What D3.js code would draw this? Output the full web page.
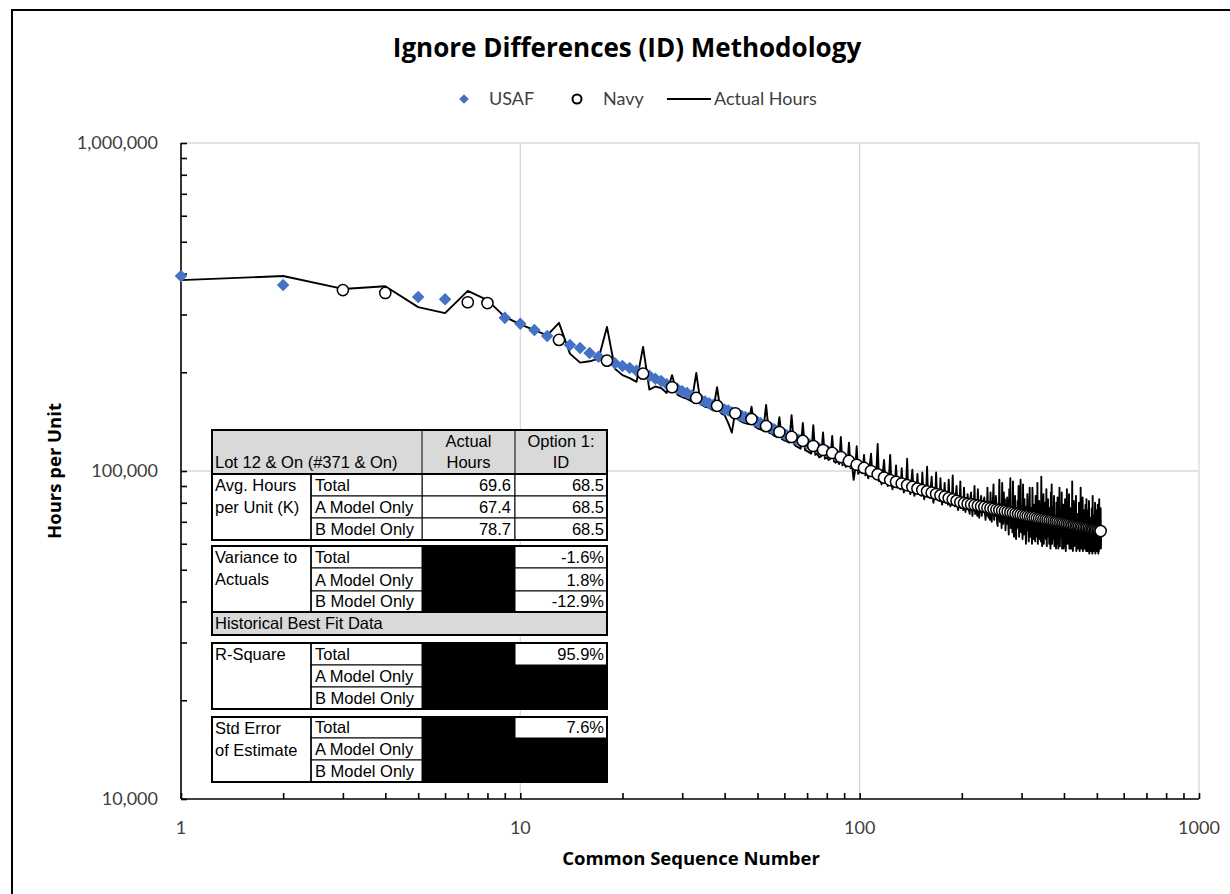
<!DOCTYPE html>
<html>
<head>
<meta charset="utf-8">
<script src="https://cdn.jsdelivr.net/npm/d3@7"></script>
<style>
  body { margin: 0; background: #fff; }
  svg { display: block; }
</style>
</head>
<body>
<script>
// ---- data (hours in thousands) ----
const usafUnits = [1, 2, 5, 6, 9, 10, 11, 12, 14, 15, 16, 17, 19, 20, 21, 22, 24, 25, 26, 27,
  29, 30, 31, 32, 34, 35, 36, 37, 39, 40, 41, 42, 44, 45, 46, 47, 49, 50, 51, 52,
  54, 55, 56, 57, 59, 60, 61, 62, 64, 65, 66, 67, 69, 70, 71, 72, 74, 75, 76, 77,
  79, 80, 81, 82, 84, 85, 86, 87, 89, 90, 91, 92, 94, 95, 96, 97, 99, 100];
const usafHours = [393, 369, 339, 334, 293, 281, 269, 258, 242, 237, 229, 223, 213, 209, 206, 202, 195, 191, 188, 184,
  178, 175, 173, 170, 165, 163, 161, 159, 156, 154, 153, 151, 148, 147, 146, 145, 142, 141, 140, 138,
  136, 135, 134, 132.5, 130.5, 129.5, 128.5, 127.5, 126, 125, 124.5, 124, 122.5, 121.5, 120.5, 120, 118.5, 118, 117, 116.5,
  115.4, 114.9, 114.4, 114, 112.8, 112.2, 111.5, 110.9, 109.7, 109.1, 108.5, 107.9, 106.8, 106.2, 105.6, 105.1, 104, 103.5];

const navyUnits = [3, 4, 7, 8, 13, 18, 23, 28, 33, 38, 43, 48, 53, 58, 63, 68, 73, 78, 83, 88,
  93, 98, 103, 108, 113, 118, 123, 128, 133, 138, 143, 148, 153, 158, 163, 168, 173, 178, 183, 188,
  193, 198, 203, 208, 213, 218, 223, 228, 233, 238, 243, 248, 253, 258, 263, 268, 273, 278, 283, 288,
  293, 298, 303, 308, 313, 318, 323, 328, 333, 338, 343, 348, 353, 358, 363, 368, 373, 378, 383, 388,
  393, 398, 403, 408, 413, 418, 423, 428, 433, 438, 443, 448, 453, 458, 463, 468, 473, 478, 483, 488,
  493, 498, 503, 508, 513];
const navyHours = [356, 349, 327, 325, 251, 217, 198, 180, 167, 158, 150, 144, 137, 131.5, 127, 123.5, 119.2, 115.9, 113.5, 110.3,
  107.3, 104.5, 102.2, 100.0, 97.7, 95.5, 93.8, 92.7, 91.6, 90.5, 89.4, 88.4, 87.5, 86.7, 85.9, 85.1, 84.3, 83.5, 82.7, 81.9,
  81.1, 80.3, 79.8, 79.4, 79.1, 78.7, 78.4, 78.0, 77.7, 77.3, 77.0, 76.6, 76.3, 76.0, 75.7, 75.4, 75.1, 74.8, 74.5, 74.2,
  73.9, 73.6, 73.3, 73.1, 72.9, 72.6, 72.4, 72.2, 71.9, 71.7, 71.5, 71.3, 71.1, 70.9, 70.7, 70.5, 70.3, 70.1, 69.9, 69.7,
  69.6, 69.4, 69.2, 69.0, 68.8, 68.7, 68.5, 68.3, 68.1, 68.0, 67.8, 67.6, 67.5, 67.3, 67.2, 67.0, 66.9, 66.7, 66.5, 66.4,
  66.2, 66.1, 65.9, 65.8, 65.6];

// actual hours for units 1..515
const actualHours = [
  382, 393, 359, 366, 316, 303, 354, 332, 295, 280,
  269, 259, 283, 228, 214, 216, 220, 275, 205, 196,
  192, 187, 239, 177, 181, 179, 173, 196, 171, 168,
  166, 163, 199, 160, 157, 156, 153, 180, 150, 148,
  140, 131, 152, 143, 141, 140, 139, 157, 137, 135,
  134, 133, 159, 131, 130, 128, 127, 146, 125, 124,
  123, 122, 148, 121, 119, 118, 117, 140, 116, 115,
  114, 113, 138, 112, 113, 110, 111, 131, 109, 110,
  108, 109, 128, 107, 106, 108, 105, 127, 104, 106,
  103, 104, 122, 102, 104, 94, 101, 119, 98, 100,
  104, 99, 112, 97, 100, 95, 103, 113, 98, 101,
  95, 100, 121, 93, 96, 91, 99, 108, 94, 97,
  90, 96, 112, 92, 88, 95, 91, 104, 89, 93,
  94, 88, 102, 90, 86, 92, 89, 109, 87, 90,
  85, 93, 101, 88, 84, 90, 87, 98, 86, 89,
  91, 84, 99, 86, 82, 88, 85, 103, 84, 87,
  83, 89, 96, 84, 80, 86, 83, 99, 82, 85,
  87, 81, 95, 83, 79, 85, 82, 92, 80, 84,
  86, 79, 94, 81, 78, 84, 80, 97, 79, 82,
  78, 84, 90, 79, 76, 82, 79, 93, 77, 80,
  82, 76, 89, 78, 75, 81, 77, 85, 79, 76,
  74, 83, 86, 77, 73, 80, 78, 90, 74, 79,
  81, 73, 88, 77, 72, 76, 80, 84, 73, 78,
  75, 81, 83, 74, 71, 79, 73, 89, 76, 72,
  80, 71, 86, 75, 70, 77, 82, 91, 71, 74,
  73, 84, 79, 70, 68, 76, 72, 94, 70, 77,
  79, 67, 92, 73, 69, 86, 71, 82, 66, 74,
  69, 83, 76, 71, 64, 88, 72, 95, 67, 73,
  78, 65, 93, 69, 63, 79, 84, 70, 62, 75,
  67, 81, 73, 90, 63, 76, 66, 94, 65, 71,
  75, 62, 91, 69, 64, 82, 67, 78, 60, 70,
  66, 85, 72, 68, 61, 74, 89, 63, 64, 77,
  73, 60, 89, 67, 62, 79, 65, 71, 61, 84,
  66, 79, 63, 92, 60, 73, 65, 81, 62, 68,
  72, 61, 96, 66, 59, 76, 70, 85, 60, 74,
  64, 80, 68, 62, 88, 59, 74, 63, 82, 67,
  71, 60, 77, 65, 58, 86, 63, 91, 60, 66,
  62, 78, 70, 84, 59, 72, 61, 67, 58, 80,
  69, 60, 83, 64, 58, 74, 62, 89, 59, 71,
  63, 76, 66, 86, 58, 65, 61, 79, 58, 70,
  68, 59, 82, 63, 57, 73, 61, 88, 64, 60,
  62, 75, 67, 85, 58, 70, 59, 77, 58, 66,
  69, 58, 93, 62, 57, 72, 60, 81, 59, 63,
  61, 79, 65, 84, 57, 68, 59, 74, 58, 70,
  66, 58, 80, 61, 57, 71, 63, 89, 58, 62,
  60, 73, 64, 83, 57, 67, 59, 76, 58, 69,
  65, 58, 79, 60, 57, 82, 58, 71, 57, 63,
  60, 76, 66, 81, 56, 67, 58, 72, 57, 64,
  68, 57, 77, 59, 56, 84, 58, 70, 57, 61,
  59, 73, 63, 80, 56, 66, 57, 76, 57, 68,
  64, 57, 79, 60, 56, 71, 57, 82, 58, 62,
  59, 70, 77, 58, 66
];

const yTickValues = [10000, 100000, 1000000];
const xTickValues = [1, 10, 100, 1000];

// table contents
const tableTitle = "Lot 12 & On (#371 & On)";
const colHeads = [["Actual", "Hours"], ["Option 1:", "ID"]];
const modelRows = ["Total", "A Model Only", "B Model Only"];
const avgActual = ["69.6", "67.4", "78.7"];
const avgOption = ["68.5", "68.5", "68.5"];
const varianceOption = ["-1.6%", "1.8%", "-12.9%"];
const rSquareOption = ["95.9%"];
const stdErrOption = ["7.6%"];

// ---- drawing ----
const W = 1230, H = 894;
const font = "Lato, 'Open Sans', sans-serif";
const bfont = "'Open Sans', Lato, sans-serif";
const tfont = "'Liberation Sans', Arial, sans-serif";

const svg = d3.select("body").append("svg").attr("width", W).attr("height", H);
svg.append("rect").attr("width", W).attr("height", H).attr("fill", "#fff");

const x = d3.scaleLog().domain([1, 1000]).range([181, 1199]);
const y = d3.scaleLog().domain([10000, 1000000]).range([799, 143]);

// gridlines
const grid = svg.append("g").attr("stroke", "#d9d9d9").attr("stroke-width", 1.3);
grid.selectAll("line.v").data([10, 100, 1000]).enter().append("line")
  .attr("x1", d => x(d)).attr("x2", d => x(d)).attr("y1", y(1e6)).attr("y2", y(1e4));
grid.selectAll("line.h").data([100000, 1000000]).enter().append("line")
  .attr("x1", x(1)).attr("x2", x(1000)).attr("y1", d => y(d)).attr("y2", d => y(d));

// axes with minor ticks inside
const xAxis = d3.axisTop(x).tickValues(x.ticks()).tickSize(6).tickFormat("");
const yAxis = d3.axisRight(y).tickValues(y.ticks()).tickSize(6).tickFormat("");
svg.append("g").attr("transform", `translate(0,${y(1e4)})`).call(xAxis)
  .call(g => g.selectAll("line,path").attr("stroke", "#000").attr("stroke-width", 1.6))
  .call(g => g.select(".domain").attr("d", `M${x(1)},0H${x(1000)}`));
svg.append("g").attr("transform", `translate(${x(1)},0)`).call(yAxis)
  .call(g => g.selectAll("line,path").attr("stroke", "#000").attr("stroke-width", 1.6))
  .call(g => g.select(".domain").attr("d", `M0,${y(1e6)}V${y(1e4)}`));

// tick labels
svg.append("g").selectAll("text").data(yTickValues).enter().append("text")
  .attr("x", 158).attr("y", d => y(d) + 6).attr("text-anchor", "end")
  .attr("font-family", font).attr("font-size", 18).attr("fill", "#404040")
  .text(d => d3.format(",")(d));
svg.append("g").selectAll("text").data(xTickValues).enter().append("text")
  .attr("x", d => x(d)).attr("y", 834).attr("text-anchor", "middle")
  .attr("font-family", font).attr("font-size", 18).attr("fill", "#404040")
  .text(d => d);

// actual hours line
const line = d3.line().x((d, i) => x(i + 1)).y(d => y(d * 1000));
svg.append("path").attr("d", line(actualHours)).attr("fill", "none")
  .attr("stroke", "#000").attr("stroke-width", 1.9).attr("stroke-linejoin", "round");

// USAF diamonds
const diamond = d3.symbol().type(d3.symbolDiamond2).size(100);
svg.append("g").selectAll("path").data(usafUnits).enter().append("path")
  .attr("d", diamond)
  .attr("transform", (d, i) => `translate(${x(d)},${y(usafHours[i] * 1000)})`)
  .attr("fill", "#4472c4");

// Navy circles
svg.append("g").selectAll("circle").data(navyUnits).enter().append("circle")
  .attr("cx", d => x(d)).attr("cy", (d, i) => y(navyHours[i] * 1000))
  .attr("r", 5.6).attr("fill", "#fff").attr("stroke", "#000").attr("stroke-width", 1.5);

// ---- table ----
const cols = [212, 311, 422, 515, 607];
const tbl = svg.append("g").attr("font-family", tfont).attr("font-size", 16.5).attr("fill", "#000");

function rect(x0, y0, x1, y1, fill, sw) {
  tbl.append("rect").attr("x", x0).attr("y", y0).attr("width", x1 - x0).attr("height", y1 - y0)
    .attr("fill", fill).attr("stroke", sw ? "#000" : "none").attr("stroke-width", sw || 0);
}
function txt(tx, ty, s, anchor) {
  tbl.append("text").attr("x", tx).attr("y", ty).attr("text-anchor", anchor || "start")
    .attr("fill", "#000").text(s);
}

// header
rect(cols[0], 430, cols[4], 474, "#d9d9d9", 2);
tbl.append("line").attr("x1", cols[2]).attr("x2", cols[2]).attr("y1", 430).attr("y2", 474).attr("stroke", "#000");
tbl.append("line").attr("x1", cols[3]).attr("x2", cols[3]).attr("y1", 430).attr("y2", 474).attr("stroke", "#000");
txt(215, 468, tableTitle);
colHeads.forEach((h, i) => {
  const cx = (cols[i + 2] + cols[i + 3]) / 2;
  txt(cx, 447, h[0], "middle");
  txt(cx, 468, h[1], "middle");
});

// block helper: rows [y0,y1,y2,y3]
function block(rows, label, actualVals, optionVals, optionWhiteRows) {
  rect(cols[0], rows[0], cols[4], rows[3], "#fff", 0);
  if (actualVals) {
    modelRows.forEach((m, i) => {
      rect(cols[2], rows[i], cols[3], rows[i + 1], "#fff", 1);
      txt(cols[3] - 4, rows[i + 1] - 5, actualVals[i], "end");
    });
  } else {
    rect(cols[2], rows[0], cols[3], rows[3], "#000", 0);
  }
  modelRows.forEach((m, i) => {
    rect(cols[1], rows[i], cols[2], rows[i + 1], "#fff", 1);
    txt(cols[1] + 4, rows[i + 1] - 5, m);
    if (i < optionWhiteRows) {
      rect(cols[3], rows[i], cols[4], rows[i + 1], "#fff", 1);
      txt(cols[4] - 3, rows[i + 1] - 5, optionVals[i], "end");
    } else {
      rect(cols[3], rows[i], cols[4], rows[i + 1], "#000", 0);
    }
  });
  label.forEach((l, i) => txt(cols[0] + 3, rows[0] + 17 + i * 22, l));
  rect(cols[0], rows[0], cols[4], rows[3], "none", 2);
  tbl.append("line").attr("x1", cols[1]).attr("x2", cols[1]).attr("y1", rows[0]).attr("y2", rows[3])
    .attr("stroke", "#000").attr("stroke-width", 1.5);
}

block([474, 496, 518, 540], ["Avg. Hours", "per Unit (K)"], avgActual, avgOption, 3);
block([546, 568, 591, 612], ["Variance to", "Actuals"], null, varianceOption, 3);
rect(cols[0], 612, cols[4], 635, "#d9d9d9", 2);
txt(215, 629, "Historical Best Fit Data");
block([643, 665, 687, 709], ["R-Square"], null, rSquareOption, 1);
block([717, 738, 760, 782], ["Std Error", "of Estimate"], null, stdErrOption, 1);

// ---- titles and legend ----
svg.append("text").attr("x", 627).attr("y", 57).attr("text-anchor", "middle")
  .attr("font-family", bfont).attr("font-weight", "bold").attr("font-size", 26)
  .text("Ignore Differences (ID) Methodology");

svg.append("text").attr("x", 691).attr("y", 865).attr("text-anchor", "middle")
  .attr("font-family", bfont).attr("font-weight", "bold").attr("font-size", 18.5)
  .text("Common Sequence Number");

svg.append("text").attr("transform", "translate(61,471) rotate(-90)").attr("text-anchor", "middle")
  .attr("font-family", bfont).attr("font-weight", "bold").attr("font-size", 18.5)
  .text("Hours per Unit");

const legend = svg.append("g").attr("font-family", font).attr("font-size", 18).attr("fill", "#404040");
legend.append("path").attr("d", d3.symbol().type(d3.symbolDiamond2).size(60))
  .attr("transform", "translate(464,99)").attr("fill", "#4472c4");
legend.append("text").attr("x", 489).attr("y", 105).text("USAF");
legend.append("circle").attr("cx", 577).attr("cy", 99).attr("r", 4.5)
  .attr("fill", "#fff").attr("stroke", "#000").attr("stroke-width", 2);
legend.append("text").attr("x", 603).attr("y", 105).text("Navy");
legend.append("line").attr("x1", 667).attr("x2", 711).attr("y1", 99).attr("y2", 99)
  .attr("stroke", "#000").attr("stroke-width", 1.8);
legend.append("text").attr("x", 714).attr("y", 105).text("Actual Hours");

// outer frame
svg.append("rect").attr("x", 12).attr("y", 10).attr("width", W).attr("height", H)
  .attr("fill", "none").attr("stroke", "#000").attr("stroke-width", 2);
</script>
</body>
</html>
